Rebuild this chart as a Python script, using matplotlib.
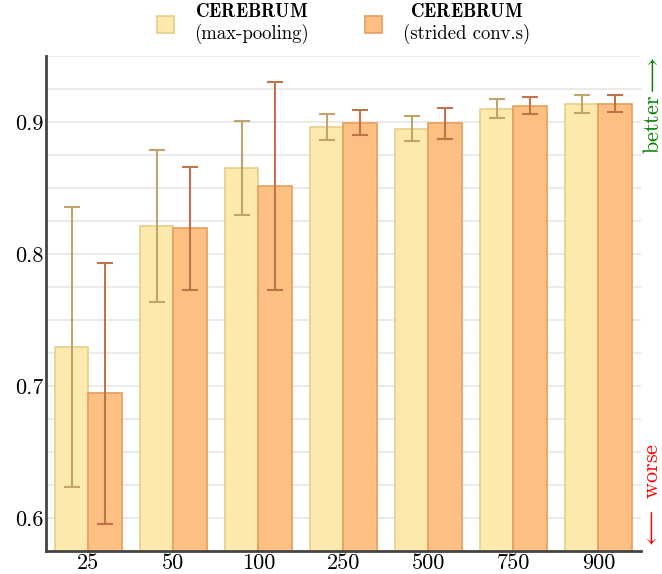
import numpy as np
import matplotlib
matplotlib.use("Agg")
from matplotlib import pyplot as plt

plt.rcParams["font.family"] = "serif"
plt.rcParams["font.serif"] = ["cmr10", "DejaVu Serif"]
plt.rcParams["mathtext.fontset"] = "cm"
plt.rcParams["axes.formatter.use_mathtext"] = True

# data
sizes = ["25", "50", "100", "250", "500", "750", "900"]
maxpool_mean = [0.7295, 0.8212, 0.8652, 0.8962, 0.8952, 0.9104, 0.9139]
maxpool_err = [0.106, 0.0577, 0.0354, 0.0097, 0.0098, 0.0070, 0.0066]
strided_mean = [0.6944, 0.8195, 0.8520, 0.8995, 0.8992, 0.9126, 0.9139]
strided_err = [0.0986, 0.0467, 0.0788, 0.0095, 0.0116, 0.0067, 0.0065]
yticks = [0.6, 0.7, 0.8, 0.9]

fig = plt.figure(figsize=(6.62, 5.74), dpi=100)
ax = fig.add_axes([0.0695, 0.040, 0.8985, 0.862])

x = np.arange(len(sizes))
w = 0.395

ax.bar(x - w / 2, maxpool_mean, w, yerr=maxpool_err, color="#fde9ad",
       edgecolor="#e6cf8a", linewidth=1.2, zorder=2,
       label=r"$\mathbf{CEREBRUM}$" + "\n(max-pooling)",
       error_kw=dict(ecolor="#c2a36c", elinewidth=1.5, capsize=6, capthick=1.5, zorder=3))
ax.bar(x + w / 2, strided_mean, w, yerr=strided_err, color="#fdbf82",
       edgecolor="#e39f5c", linewidth=1.2, zorder=2,
       label=r"$\mathbf{CEREBRUM}$" + "\n(strided conv.s)",
       error_kw=dict(ecolor="#c0734a", elinewidth=1.5, capsize=6, capthick=1.5, zorder=3))

ax.set_xlim(-0.5, len(sizes) - 0.5)
ax.set_ylim(0.575, 0.95)
ax.set_xticks(x)
ax.set_xticklabels(sizes, fontsize=16)
ax.set_yticks(yticks)
ax.set_yticklabels([str(v) for v in yticks], fontsize=16)
ax.set_yticks(np.arange(0.575, 0.951, 0.025), minor=True)
ax.grid(axis="y", which="both", color="#e6e6e6", linewidth=1.2, zorder=0)
ax.tick_params(axis="both", which="both", length=0, pad=2)

for s in ["top", "right"]:
    ax.spines[s].set_visible(False)
for s in ["left", "bottom"]:
    ax.spines[s].set_color("#444444")
    ax.spines[s].set_linewidth(2)

leg = ax.legend(loc="lower center", bbox_to_anchor=(0.5, 0.99), ncol=2,
                frameon=False, fontsize=13.5, handlelength=0.9, handleheight=1.0,
                columnspacing=3.0, handletextpad=1.1)
for t in leg.get_texts():
    t.set_multialignment("center")

fig.text(0.986, 0.902, r"better$\longrightarrow$", color="green", rotation=90,
         fontsize=16, ha="center", va="top")
fig.text(0.986, 0.043, r"$\longleftarrow$ worse", color="red", rotation=90,
         fontsize=16, ha="center", va="bottom")

fig.savefig("out.png", dpi=100)
